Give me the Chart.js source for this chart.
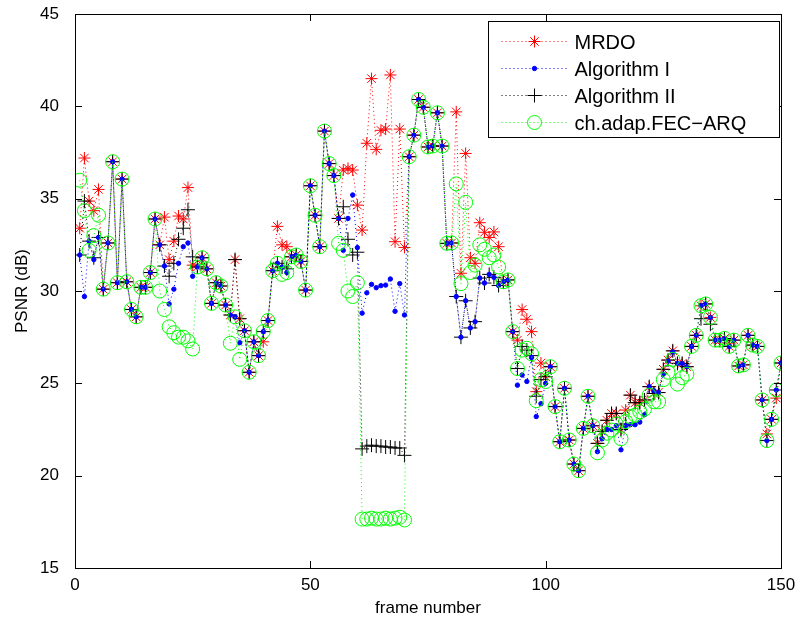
<!DOCTYPE html>
<html>
<head>
<meta charset="utf-8">
<script src="https://cdn.jsdelivr.net/npm/chart.js@4.4.3/dist/chart.umd.min.js"></script>
<style>
  html, body { margin: 0; padding: 0; background: #fff; }
  #wrap { width: 800px; height: 630px; position: relative; }
</style>
</head>
<body>
<div id="wrap"><canvas id="psnr"></canvas></div>
<script>
// ─────────────────────────────────────────────────────────────
// Data (PSNR in dB per frame, frames 1..150)
// ─────────────────────────────────────────────────────────────
const seriesNames = ['MRDO', 'Algorithm I', 'Algorithm II', 'ch.adap.FEC\u2212ARQ'];

const mrdo = [
  33.4, 37.2, 34.87, 34.35, 35.5, 30.1, 32.6, 37.0, 30.45, 36.06,
  30.5, 29.0, 28.6, 30.2, 30.2, 31.0, 33.9, 32.5, 34.0, 31.7,
  32.7, 34.06, 33.9, 35.6, 31.4, 31.3, 31.8, 31.2, 29.33, 30.45,
  30.27, 29.24, 28.7, 31.7, 28.5, 27.85, 25.6, 27.25, 26.5, 27.25,
  28.4, 31.1, 33.5, 32.5, 32.4, 31.85, 31.95, 31.6, 30.05, 35.7,
  34.1, 32.4, 38.66, 36.9, 36.25, 33.93, 36.55, 36.64, 36.55, 34.65,
  33.3, 38.0, 41.5, 37.67, 38.7, 38.77, 41.7, 32.67, 38.77, 32.36,
  37.27, 38.44, 40.37, 39.95, 37.8, 37.85, 39.65, 37.85, 32.58, 32.6,
  39.7, 30.96, 37.45, 31.8, 31.5, 33.7, 33.18, 32.9, 33.2, 32.4,
  30.5, 30.6, 27.8, 27.34, 29.0, 28.47, 27.8, 24.55, 26.1, 25.36,
  25.9, 23.74, 21.84, 24.73, 21.93, 20.63, 20.27, 22.56, 24.3, 22.7,
  21.75, 22.4, 23.0, 23.37, 23.37, 22.5, 23.55, 24.36, 23.95, 23.95,
  24.1, 24.82, 24.45, 24.5, 25.76, 26.26, 26.76, 26.08, 26.08, 25.9,
  27.0, 27.6, 29.2, 29.3, 28.57, 27.34, 27.34, 27.43, 27.0, 27.34,
  25.94, 26.0, 27.6, 27.07, 27.0, 24.1, 22.26, 23.05, 24.2, 26.1
];

const algo1 = [
  31.95, 29.7, 32.7, 31.7, 32.9, 30.1, 32.6, 37.0, 30.45, 36.06,
  30.5, 29.0, 28.6, 30.2, 30.2, 31.0, 33.9, 32.5, 31.35, 29.3,
  30.1, 31.5, 32.4, 32.6, 30.8, 31.3, 31.8, 31.2, 29.33, 30.45,
  30.27, 29.24, 28.7, 28.6, 27.2, 27.85, 25.6, 27.25, 26.5, 27.8,
  28.4, 31.1, 31.5, 31.3, 31.0, 31.85, 31.95, 31.6, 30.05, 35.7,
  34.1, 32.4, 38.66, 36.9, 36.25, 33.93, 32.2, 33.93, 35.2, 32.35,
  28.8, 29.9, 30.36, 30.18, 30.29, 30.32, 30.65, 28.9, 30.4, 28.7,
  37.27, 38.44, 40.37, 39.95, 37.8, 37.85, 39.65, 37.85, 32.58, 32.6,
  29.7, 27.5, 29.47, 28.0, 28.34, 30.7, 30.43, 30.9, 30.74, 30.3,
  30.5, 30.6, 27.8, 24.9, 25.45, 25.1, 26.4, 23.2, 23.9, 25.0,
  25.9, 23.74, 21.84, 24.73, 21.93, 20.63, 20.27, 22.56, 24.3, 22.7,
  21.3, 22.0, 22.5, 22.5, 22.7, 21.4, 22.7, 22.76, 22.76, 22.9,
  23.3, 24.82, 24.6, 24.5, 25.5, 26.2, 26.7, 26.08, 26.08, 25.9,
  27.0, 27.6, 29.2, 29.3, 28.57, 27.34, 27.34, 27.43, 27.0, 27.34,
  25.94, 26.0, 27.6, 27.07, 27.0, 24.1, 21.9, 23.05, 24.64, 26.1
];

const algo2 = [
  31.95, 34.87, 32.7, 31.8, 32.9, 30.1, 32.6, 37.0, 30.45, 36.06,
  30.5, 29.0, 28.6, 30.2, 30.2, 31.0, 33.9, 32.5, 31.35, 30.8,
  31.5, 32.8, 33.4, 34.4, 31.85, 31.3, 31.8, 31.2, 29.33, 30.45,
  30.27, 29.24, 28.7, 31.7, 28.5, 27.85, 25.6, 27.25, 26.5, 27.8,
  28.4, 31.1, 31.5, 31.3, 31.2, 31.85, 31.95, 31.6, 30.05, 35.7,
  34.1, 32.4, 38.66, 36.9, 36.25, 33.93, 34.56, 32.8, 31.95, 32.1,
  21.45, 21.6, 21.65, 21.6, 21.6, 21.55, 21.55, 21.5, 21.5, 21.1,
  37.27, 38.44, 40.37, 39.95, 37.8, 37.85, 39.65, 37.85, 32.58, 32.6,
  29.7, 27.5, 29.47, 28.0, 28.34, 30.7, 30.43, 30.9, 30.74, 30.3,
  30.5, 30.6, 27.8, 25.8, 27.0, 26.8, 26.5, 24.3, 25.2, 25.36,
  25.9, 23.74, 21.84, 24.73, 21.93, 20.63, 20.27, 22.56, 24.3, 22.7,
  21.75, 22.4, 23.0, 23.37, 23.37, 22.5, 22.8, 24.36, 23.95, 23.95,
  24.1, 24.82, 24.45, 24.5, 25.76, 26.26, 26.76, 26.08, 26.08, 25.9,
  27.0, 27.6, 28.5, 29.3, 28.2, 27.34, 27.34, 27.43, 27.0, 27.34,
  25.94, 26.0, 27.6, 27.07, 27.0, 24.1, 21.9, 23.05, 24.64, 26.1
];

const fecArq = [
  36.0, 34.35, 32.2, 33.0, 34.1, 30.1, 32.6, 37.0, 30.45, 36.06,
  30.5, 29.0, 28.6, 30.2, 30.2, 31.0, 33.9, 30.0, 29.0, 28.06,
  27.74, 27.5, 27.5, 27.3, 26.86, 31.3, 31.8, 31.2, 29.33, 30.45,
  30.27, 29.24, 27.17, 28.6, 26.3, 27.85, 25.6, 27.25, 26.5, 27.8,
  28.4, 31.1, 31.5, 30.9, 31.0, 31.85, 31.95, 31.6, 30.05, 35.7,
  34.1, 32.4, 38.66, 36.9, 36.25, 32.58, 32.2, 30.0, 29.7, 30.45,
  17.65, 17.65, 17.7, 17.65, 17.65, 17.7, 17.65, 17.7, 17.75, 17.6,
  37.27, 38.44, 40.37, 39.95, 37.8, 37.85, 39.65, 37.85, 32.58, 32.6,
  35.8, 30.4, 34.8, 31.0, 31.4, 32.5, 32.26, 31.8, 31.95, 31.3,
  30.5, 30.6, 27.8, 25.8, 26.8, 26.9, 26.6, 24.06, 25.2, 25.1,
  25.9, 23.74, 21.84, 24.73, 21.93, 20.63, 20.27, 22.56, 24.3, 22.7,
  21.24, 21.93, 22.3, 22.47, 22.8, 22.0, 22.93, 23.2, 23.28, 23.46,
  23.6, 24.36, 24.0, 24.0, 25.2, 25.6, 26.3, 24.96, 25.3, 25.5,
  27.0, 27.6, 29.2, 29.3, 28.57, 27.34, 27.34, 27.43, 27.0, 27.34,
  25.94, 26.0, 27.6, 27.07, 27.0, 24.1, 21.9, 23.05, 24.64, 26.1
];

// frame number of each sample (1-based index)
const frames = mrdo.map((_, i) => i + 1);

const xTicks = [0, 50, 100, 150];
const yTicks = [15, 20, 25, 30, 35, 40, 45];

// ─────────────────────────────────────────────────────────────
// Styling
// ─────────────────────────────────────────────────────────────
const FONT = "'Liberation Sans', Arial, Helvetica, sans-serif";
const DOT = [1, 3];

const styles = [
  { color: '#ff0000', pointStyle: 'star',   radius: 6,   fill: 'rgba(0,0,0,0)', order: 4 },
  { color: '#0000ff', pointStyle: 'circle', radius: 2.2, fill: '#0000ff',       order: 2 },
  { color: '#000000', pointStyle: 'cross',  radius: 7,   fill: 'rgba(0,0,0,0)', order: 3 },
  { color: '#00ff00', pointStyle: 'circle', radius: 7,   fill: 'rgba(0,0,0,0)', order: 1 },
];

const toXY = arr => arr.map((v, i) => ({ x: frames[i], y: v }));

const datasets = [mrdo, algo1, algo2, fecArq].map((arr, i) => ({
  label: seriesNames[i],
  data: toXY(arr),
  borderColor: styles[i].color,
  borderWidth: 1,
  borderDash: DOT,
  pointStyle: styles[i].pointStyle,
  pointRadius: styles[i].radius,
  pointBorderColor: styles[i].color,
  pointBackgroundColor: styles[i].fill,
  pointBorderWidth: 1,
  fill: false,
  tension: 0,
  order: styles[i].order,
}));

// box around plot + inward tick marks on all four sides (MATLAB look)
const axesBox = {
  id: 'axesBox',
  afterDraw(chart) {
    const { ctx, chartArea: a, scales } = chart;
    const len = 7;
    ctx.save();
    ctx.strokeStyle = '#000';
    ctx.lineWidth = 1;
    ctx.setLineDash([]);
    ctx.beginPath();
    xTicks.forEach(v => {
      const px = Math.round(scales.x.getPixelForValue(v)) + 0.5;
      ctx.moveTo(px, a.bottom); ctx.lineTo(px, a.bottom - len);
      ctx.moveTo(px, a.top);    ctx.lineTo(px, a.top + len);
    });
    yTicks.forEach(v => {
      const py = Math.round(scales.y.getPixelForValue(v)) + 0.5;
      ctx.moveTo(a.left, py);  ctx.lineTo(a.left + len, py);
      ctx.moveTo(a.right, py); ctx.lineTo(a.right - len, py);
    });
    ctx.stroke();
    ctx.strokeRect(Math.round(a.left) + 0.5, Math.round(a.top) + 0.5,
                   Math.round(a.right - a.left), Math.round(a.bottom - a.top));
    ctx.restore();
  }
};

// boxed legend in the upper right corner, line sample + marker + label
const legendBox = {
  id: 'legendBox',
  afterDraw(chart) {
    const { ctx, chartArea: a } = chart;
    const w = 291, h = 116;
    const x0 = Math.round(a.right - w - 2) + 0.5;
    const y0 = Math.round(a.top + 7) + 0.5;
    ctx.save();
    ctx.fillStyle = '#fff';
    ctx.fillRect(x0, y0, w, h);
    ctx.strokeStyle = '#000';
    ctx.lineWidth = 1;
    ctx.strokeRect(x0, y0, w, h);

    ctx.font = `20px ${FONT}`;
    ctx.textBaseline = 'middle';
    ctx.textAlign = 'left';
    chart.data.datasets.forEach((ds, i) => {
      const yy = Math.round(y0 + 19 + i * 27.3) + 0.5;
      ctx.strokeStyle = ds.borderColor;
      ctx.setLineDash(DOT);
      ctx.beginPath();
      ctx.moveTo(x0 + 13, yy);
      ctx.lineTo(x0 + 78, yy);
      ctx.stroke();
      ctx.setLineDash([]);
      ctx.fillStyle = ds.pointBackgroundColor;
      ctx.strokeStyle = ds.pointBorderColor;
      Chart.helpers.drawPoint(ctx, {
        pointStyle: ds.pointStyle, radius: ds.pointRadius, borderWidth: 1, rotation: 0
      }, x0 + 46, yy);
      ctx.fillStyle = '#000';
      ctx.fillText(ds.label, x0 + 86, yy + 2);
    });
    ctx.restore();
  }
};

new Chart(document.getElementById('psnr'), {
  type: 'line',
  data: { datasets },
  options: {
    responsive: true,
    maintainAspectRatio: false,
    animation: false,
    events: [],
    layout: { padding: { left: 0, right: 19, top: 14, bottom: 0 } },
    plugins: {
      legend: { display: false },
      tooltip: { enabled: false },
    },
    scales: {
      x: {
        type: 'linear',
        min: 0,
        max: 150,
        afterBuildTicks: s => { s.ticks = xTicks.map(v => ({ value: v })); },
        afterFit: s => { s.height = 62; s.paddingLeft = 0; s.paddingRight = 0; },
        grid: { display: false, drawTicks: false },
        border: { display: false },
        ticks: { color: '#000', font: { family: FONT, size: 17 }, padding: 7, maxRotation: 0 },
        title: { display: true, text: 'frame number', color: '#000',
                 font: { family: FONT, size: 17 }, padding: { top: 0, bottom: 11 } },
      },
      y: {
        min: 15,
        max: 45,
        afterBuildTicks: s => { s.ticks = yTicks.map(v => ({ value: v })); },
        afterFit: s => { s.width = 75; s.paddingTop = 0; s.paddingBottom = 0; },
        grid: { display: false, drawTicks: false },
        border: { display: false },
        ticks: { color: '#000', font: { family: FONT, size: 17 }, padding: 16 },
        title: { display: true, text: 'PSNR (dB)', color: '#000',
                 font: { family: FONT, size: 17 }, padding: { top: 12, bottom: 0 } },
      },
    },
  },
  plugins: [axesBox, legendBox],
});
</script>
</body>
</html>
